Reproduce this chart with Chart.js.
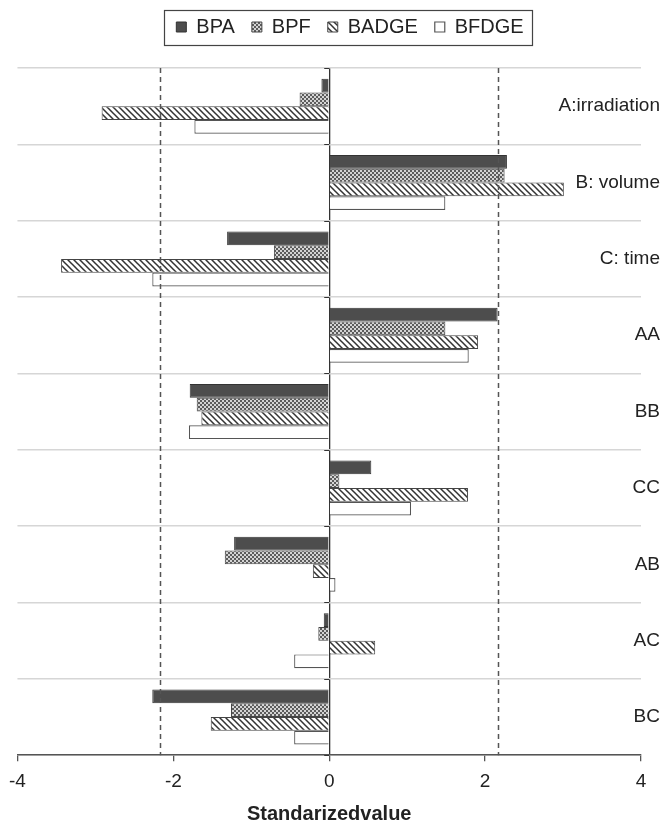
<!DOCTYPE html>
<html>
<head>
<meta charset="utf-8">
<script src="https://cdn.jsdelivr.net/npm/chart.js@4.4.1/dist/chart.umd.min.js"></script>
<style>
  html, body { margin: 0; padding: 0; background: #fff; }
  #wrap { width: 670px; height: 820px; }
</style>
</head>
<body>
<div id="wrap"><canvas id="chart" width="670" height="820"></canvas></div>
<script>
const factors = ['A:irradiation', 'B: volume', 'C: time', 'AA', 'BB', 'CC', 'AB', 'AC', 'BC'];
const bpaValues = [-0.10, 2.28, -1.31, 2.16, -1.79, 0.54, -1.22, -0.07, -2.27];
const bpfValues = [-0.38, 2.25, -0.71, 1.49, -1.70, 0.13, -1.34, -0.14, -1.26];
const badgeValues = [-2.92, 3.01, -3.44, 1.91, -1.64, 1.78, -0.21, 0.59, -1.52];
const bfdgeValues = [-1.73, 1.49, -2.27, 1.79, -1.80, 1.05, 0.08, -0.45, -0.45];
const xRange = [-4, 4];
const xStep = 2;
const criticalValue = 2.17;

const legendShift = 21;
const legendGap = 21;

Chart.defaults.font.family = "'Liberation Sans', Arial, sans-serif";
Chart.defaults.color = '#222';

function makeTile(size, paint) {
  const c = document.createElement('canvas');
  c.width = size;
  c.height = size;
  const g = c.getContext('2d');
  g.fillStyle = '#fff';
  g.fillRect(0, 0, size, size);
  paint(g, size);
  return document.getElementById('chart').getContext('2d').createPattern(c, 'repeat');
}

// fine checker for BPF
const checker = makeTile(4, function (g) {
  g.fillStyle = '#d4d4d4';
  g.fillRect(0, 0, 4, 4);
  g.fillStyle = '#5c5c5c';
  g.fillRect(0, 0, 2, 2);
  g.fillRect(2, 2, 2, 2);
});

// back-slash hatch for BADGE
const hatch = makeTile(6, function (g, s) {
  g.strokeStyle = '#333';
  g.lineWidth = 1.5;
  g.beginPath();
  g.moveTo(-1, -1); g.lineTo(s + 1, s + 1);
  g.moveTo(-1, s - 1); g.lineTo(1, s + 1);
  g.moveTo(s - 1, -1); g.lineTo(s + 1, 1);
  g.stroke();
});

const decorations = {
  id: 'decorations',
  afterInit(chart) {
    const legend = chart.legend;
    const fit = legend.fit;
    legend.fit = function () {
      fit.call(this);
      if (this.options.display) this.height += legendGap;
    };
  },
  afterUpdate(chart) {
    // nudge the legend row to the right, like the original figure
    const legend = chart.legend;
    legend.left += legendShift;
    legend.right += legendShift;
    (legend.legendHitBoxes || []).forEach(function (h) { h.left += legendShift; });
  },
  afterDatasetsDraw(chart) {
    const {ctx, chartArea} = chart;
    const x = chart.scales.x;
    const y = chart.scales.y;
    ctx.save();
    // critical value lines
    ctx.strokeStyle = '#555';
    ctx.lineWidth = 1.5;
    ctx.setLineDash([5, 4]);
    [-criticalValue, criticalValue].forEach(function (v) {
      const px = Math.round(x.getPixelForValue(v)) + 0.5;
      ctx.beginPath();
      ctx.moveTo(px, chartArea.top);
      ctx.lineTo(px, chartArea.bottom);
      ctx.stroke();
    });
    // small ticks on the zero line
    ctx.setLineDash([]);
    ctx.strokeStyle = '#333';
    ctx.lineWidth = 1.2;
    const x0 = x.getPixelForValue(0);
    ctx.beginPath();
    for (let i = 0; i <= factors.length; i++) {
      const py = Math.round(y.getPixelForValue(i - 0.5)) + 0.5;
      ctx.moveTo(x0 - 5, py);
      ctx.lineTo(x0, py);
    }
    ctx.stroke();
    ctx.restore();
  },
  afterDraw(chart) {
    const boxes = chart.legend.legendHitBoxes;
    if (!boxes || !boxes.length) return;
    const ctx = chart.ctx;
    let l = Infinity, r = -Infinity, t = Infinity, b = -Infinity;
    boxes.forEach(function (h) {
      l = Math.min(l, h.left);
      r = Math.max(r, h.left + h.width);
      t = Math.min(t, h.top);
      b = Math.max(b, h.top + h.height);
    });
    ctx.save();
    ctx.strokeStyle = '#444';
    ctx.lineWidth = 1.2;
    ctx.strokeRect(Math.round(l - 12) + 0.5, Math.round(t - 7) + 0.5, Math.round(r - l + 21), Math.round(b - t + 15));
    ctx.restore();
  }
};

new Chart(document.getElementById('chart'), {
  type: 'bar',
  data: {
    labels: factors,
    datasets: [
      { label: 'BPA', data: bpaValues, backgroundColor: '#4d4d4d', borderColor: '#333', borderWidth: 1 },
      { label: 'BPF', data: bpfValues, backgroundColor: checker, borderColor: '#444', borderWidth: 1 },
      { label: 'BADGE', data: badgeValues, backgroundColor: hatch, borderColor: '#444', borderWidth: 1 },
      { label: 'BFDGE', data: bfdgeValues, backgroundColor: '#fff', borderColor: '#555', borderWidth: 1.2 }
    ]
  },
  options: {
    indexAxis: 'y',
    responsive: false,
    animation: false,
    devicePixelRatio: 1,
    categoryPercentage: 0.72,
    barPercentage: 1.0,
    layout: { padding: { left: 17, right: 29, top: 0, bottom: -6 } },
    plugins: {
      legend: {
        position: 'top',
        labels: {
          font: { size: 20 },
          color: '#222',
          boxWidth: 10,
          boxHeight: 10,
          padding: 17
        }
      },
      tooltip: { enabled: false }
    },
    scales: {
      x: {
        min: xRange[0],
        max: xRange[1],
        ticks: { stepSize: xStep, font: { size: 19 }, color: '#222', padding: 9 },
        grid: {
          color: function (c) { return c.tick && c.tick.value === 0 ? '#333' : 'rgba(0,0,0,0)'; },
          tickColor: '#555',
          tickLength: 6,
          lineWidth: 1.3
        },
        border: { color: '#555', width: 1.5 },
        title: {
          display: true,
          text: 'Standarizedvalue',
          font: { size: 20, weight: 'bold' },
          color: '#222',
          padding: { top: 0, bottom: 0 }
        }
      },
      y: {
        position: 'right',
        grid: { color: '#d6d6d6', lineWidth: 1.5, drawTicks: false, offset: true },
        border: { display: false },
        ticks: { mirror: true, padding: 19, font: { size: 19 }, color: '#222' },
        afterFit: function (s) { s.width = 0; }
      }
    }
  },
  plugins: [decorations]
});
</script>
</body>
</html>
